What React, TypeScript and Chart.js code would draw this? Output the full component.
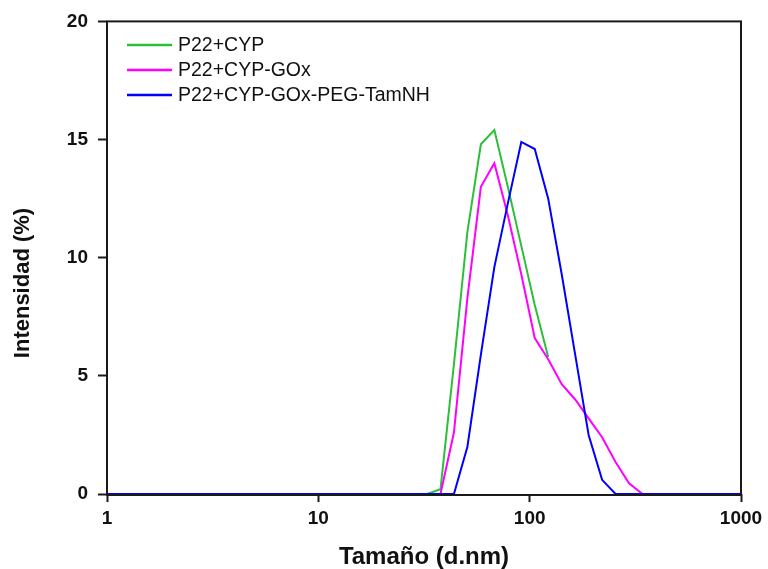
import React, { useEffect, useRef } from "react";
import { Chart, registerables } from "chart.js";

Chart.register(...registerables);

// Size bins (d.nm)
const sizes = [1, 32.67, 37.84, 43.82, 50.75, 58.77, 68.06, 78.82, 91.28, 105.7, 122.4, 141.8, 164.2, 190.1, 220.2, 255.0, 295.3, 342.0, 1000];
const seriesNames = ["P22+CYP", "P22+CYP-GOx", "P22+CYP-GOx-PEG-TamNH"];
const seriesColors = ["#2cbf3a", "#ff00ff", "#0000ff"];
const cyp = [0, 0, 0.2, 5.5, 11.1, 14.8, 15.4, 13.0, 10.5, 8.0, 5.8, null, null, null, null, null, null, null, null];
const cypGox = [0, 0, 0, 2.6, 8.3, 13.0, 14.0, 11.8, 9.3, 6.6, 5.7, 4.65, 4.0, 3.2, 2.4, 1.35, 0.45, 0, 0];
const cypGoxPeg = [0, 0, 0, 0, 2.0, 5.9, 9.6, 12.3, 14.9, 14.6, 12.5, 9.3, 5.9, 2.5, 0.6, 0, 0, 0, 0];
const xTicks = [1, 10, 100, 1000];
const yTicks = [0, 5, 10, 15, 20];
const xTitle = "Tamaño (d.nm)";
const yTitle = "Intensidad (%)";

const FONT = "Arial, 'Liberation Sans', sans-serif";

export default function App() {
  const ref = useRef<HTMLCanvasElement | null>(null);

  useEffect(() => {
    if (!ref.current) return;
    const allSeries = [cyp, cypGox, cypGoxPeg];

    const decor = {
      id: "decor",
      beforeDatasetsDraw(chart: any) {
        const { ctx, chartArea: a } = chart;
        ctx.save();
        ctx.strokeStyle = "#1a1a1a";
        ctx.lineWidth = 2;
        ctx.strokeRect(a.left, a.top, a.right - a.left, a.bottom - a.top + 1);
        ctx.restore();
      },
      afterDraw(chart: any) {
        const { ctx } = chart;
        ctx.save();
        // legend
        ctx.font = `19.5px ${FONT}`;
        ctx.textBaseline = "middle";
        ctx.textAlign = "left";
        seriesNames.forEach((name, i) => {
          const y = 45 + i * 25;
          ctx.strokeStyle = seriesColors[i];
          ctx.lineWidth = 2.5;
          ctx.beginPath();
          ctx.moveTo(127, y);
          ctx.lineTo(172, y);
          ctx.stroke();
          ctx.fillStyle = "#111";
          ctx.fillText(name, 178, y + 1);
        });
        // y title
        ctx.translate(23, 283);
        ctx.rotate(-Math.PI / 2);
        ctx.font = `bold 22px ${FONT}`;
        ctx.textAlign = "center";
        ctx.textBaseline = "middle";
        ctx.fillStyle = "#111";
        ctx.fillText(yTitle, 0, 0);
        ctx.restore();
      },
    };

    const chart = new Chart(ref.current, {
      type: "line",
      data: {
        datasets: seriesNames.map((name, i) => ({
          label: name,
          data: sizes.map((s, j) => ({ x: s, y: allSeries[i][j] })),
          borderColor: seriesColors[i],
          backgroundColor: seriesColors[i],
          borderWidth: 2,
          pointRadius: 0,
          tension: 0,
          spanGaps: false,
          order: 2 - i,
        })),
      },
      options: {
        animation: false,
        responsive: false,
        maintainAspectRatio: false,
        layout: { padding: { top: 20, right: 27, left: 0, bottom: 0 } },
        plugins: { legend: { display: false }, tooltip: { enabled: false } },
        scales: {
          x: {
            type: "logarithmic",
            min: 1,
            max: 1000,
            afterBuildTicks: (axis: any) => {
              axis.ticks = xTicks.map((v) => ({ value: v }));
            },
            afterFit: (axis: any) => {
              axis.height = 75;
            },
            ticks: {
              callback: (v: any) => String(v),
              font: { family: FONT, size: 19, weight: "bold" },
              color: "#111",
              padding: 5,
              maxRotation: 0,
              autoSkip: false,
            },
            grid: {
              drawOnChartArea: false,
              drawTicks: true,
              tickLength: 8,
              tickColor: "#1a1a1a",
              tickWidth: 2,
            },
            border: { display: false },
            title: {
              display: true,
              text: xTitle,
              font: { family: FONT, size: 24, weight: "bold", lineHeight: 1 },
              color: "#111",
              padding: { top: 0, bottom: 0 },
            },
          },
          y: {
            min: 0,
            max: 20,
            afterBuildTicks: (axis: any) => {
              axis.ticks = yTicks.map((v) => ({ value: v }));
            },
            afterFit: (axis: any) => {
              axis.width = 107;
            },
            ticks: {
              font: { family: FONT, size: 19, weight: "bold" },
              color: "#111",
              padding: 10,
            },
            grid: {
              drawOnChartArea: false,
              drawTicks: true,
              tickLength: 9,
              tickColor: "#1a1a1a",
              tickWidth: 2,
            },
            border: { display: false },
          },
        },
      },
      plugins: [decor],
    } as any);

    return () => chart.destroy();
  }, []);

  return (
    <div style={{ position: "fixed", left: 0, top: 0, width: 768, height: 569, background: "#fff" }}>
      <canvas ref={ref} width={768} height={569} style={{ display: "block", width: 768, height: 569 }} />
    </div>
  );
}
